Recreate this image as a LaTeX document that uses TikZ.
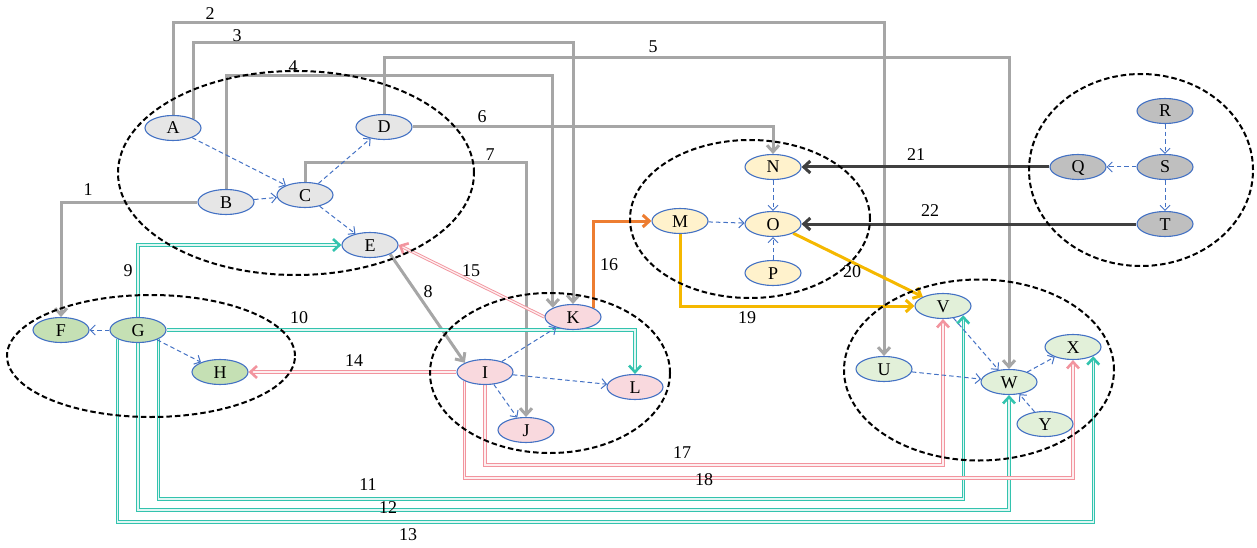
\documentclass[tikz,border=0pt]{standalone}
\usepackage{fontspec}
\setmainfont{Liberation Serif}
\usetikzlibrary{arrows.meta,shapes.geometric}

\definecolor{nodeblue}{HTML}{4472C4}
\definecolor{edgegray}{HTML}{A6A6A6}
\definecolor{darkedge}{HTML}{404040}
\definecolor{orangeedge}{HTML}{ED7D31}
\definecolor{goldedge}{HTML}{F5B800}
\definecolor{tealedge}{HTML}{33C3AE}
\definecolor{pinkedge}{HTML}{F2949E}
\definecolor{fillA}{HTML}{E6E6E6}
\definecolor{fillB}{HTML}{C5E0B4}
\definecolor{fillC}{HTML}{F9D9DE}
\definecolor{fillD}{HTML}{FFF2CC}
\definecolor{fillE}{HTML}{BFBFBF}
\definecolor{fillF}{HTML}{E2F0D9}

\pgfdeclarelayer{edgelayer}
\pgfdeclarelayer{grouplayer}
\pgfsetlayers{edgelayer,grouplayer,main}

\tikzset{
  vnode/.style={ellipse, draw=nodeblue, line width=1.1pt, minimum width=56pt, minimum height=25pt,
    inner sep=0pt, font=\fontsize{18}{18}\selectfont, text height=12pt, text depth=0pt},
  grp/.style={ellipse, draw=black, line width=2pt, dash pattern=on 5.5pt off 3pt, inner sep=0pt},
  intra/.style={draw=nodeblue, line width=1pt, dash pattern=on 4.5pt off 3pt,
    -{Straight Barb[length=5pt,width=10pt]}},
  bigtip/.style={-{Straight Barb[length=6.5pt,width=12pt]}},
  gedge/.style={draw=edgegray, line width=3pt, bigtip},
  dedge/.style={draw=darkedge, line width=3pt, bigtip},
  oedge/.style={draw=orangeedge, line width=3pt, bigtip},
  yedge/.style={draw=goldedge, line width=3pt, bigtip},
  tline/.style={draw=tealedge, line width=0.9pt, double=tealedge!15, double distance=1.3pt, shorten >=3pt},
  ttip/.style={draw=tealedge, line width=2.6pt, line cap=butt, dash pattern=on 0pt off 2000pt, bigtip},
  pline/.style={draw=pinkedge, line width=0.9pt, double=pinkedge!15, double distance=1.3pt, shorten >=3pt},
  ptip/.style={draw=pinkedge, line width=2.6pt, line cap=butt, dash pattern=on 0pt off 2000pt, bigtip},
  elabel/.style={font=\fontsize{18}{18}\selectfont, inner sep=0pt}
}
\newcommand{\dblconn}[2]{\draw[#1line] #2; \draw[#1tip] #2;}

\begin{document}
\begin{tikzpicture}[x=1pt, y=-1pt]
\useasboundingbox (0,0) rectangle (1257,548);

% nodes
\node[vnode, fill=fillA] (A) at (173,128) {A};
\node[vnode, fill=fillA] (B) at (226,202) {B};
\node[vnode, fill=fillA] (C) at (305,195) {C};
\node[vnode, fill=fillA] (D) at (384,127) {D};
\node[vnode, fill=fillA] (E) at (370,245) {E};

\node[vnode, fill=fillB] (F) at (61,330) {F};
\node[vnode, fill=fillB] (G) at (138,330) {G};
\node[vnode, fill=fillB] (H) at (220,372) {H};

\node[vnode, fill=fillC] (K) at (573,317) {K};
\node[vnode, fill=fillC] (I) at (485,372) {I};
\node[vnode, fill=fillC] (L) at (635,387) {L};
\node[vnode, fill=fillC] (J) at (526,430) {J};

\node[vnode, fill=fillD] (N) at (773,167) {N};
\node[vnode, fill=fillD] (M) at (680,221) {M};
\node[vnode, fill=fillD] (O) at (773,224) {O};
\node[vnode, fill=fillD] (P) at (773,273) {P};

\node[vnode, fill=fillE] (R) at (1165,111) {R};
\node[vnode, fill=fillE] (Q) at (1078,167) {Q};
\node[vnode, fill=fillE] (S) at (1165,167) {S};
\node[vnode, fill=fillE] (T) at (1165,224) {T};

\node[vnode, fill=fillF] (V) at (943,306) {V};
\node[vnode, fill=fillF] (U) at (884,369) {U};
\node[vnode, fill=fillF] (W) at (1009,382) {W};
\node[vnode, fill=fillF] (X) at (1073,347) {X};
\node[vnode, fill=fillF] (Y) at (1045,424) {Y};

% groups
\begin{pgfonlayer}{grouplayer}
\node[grp, minimum width=356pt, minimum height=204pt] (g1) at (296,173) {};
\node[grp, minimum width=288pt, minimum height=122pt] (g2) at (151,356) {};
\node[grp, minimum width=240pt, minimum height=160pt] (g3) at (550,373) {};
\node[grp, minimum width=240pt, minimum height=158pt] (g4) at (750,219) {};
\node[grp, minimum width=224pt, minimum height=192pt] (g5) at (1141,170) {};
\node[grp, minimum width=270pt, minimum height=181pt] (g6) at (979,370) {};
\end{pgfonlayer}

% intra-group edges
\draw[intra] (A) -- (C);
\draw[intra] (B) -- (C);
\draw[intra] (C) -- (D);
\draw[intra] (C) -- (E);
\draw[intra] (G) -- (F);
\draw[intra] (G) -- (H);
\draw[intra] (I) -- (K);
\draw[intra] (I) -- (L);
\draw[intra] (I) -- (J);
\draw[intra] (M) -- (O);
\draw[intra] (N) -- (O);
\draw[intra] (P) -- (O);
\draw[intra] (R) -- (S);
\draw[intra] (S) -- (Q);
\draw[intra] (S) -- (T);
\draw[intra] (U) -- (W);
\draw[intra] (V) -- (W);
\draw[intra] (W) -- (X);
\draw[intra] (Y) -- (W);

% inter-group edges
\begin{pgfonlayer}{edgelayer}
\draw[gedge] (B.west) -| (F.north);
\draw[gedge] (A.north) -- (A.north |- 0,23) -| (U.north);
\draw[gedge] (A.north east) -- (A.north east |- 0,43) -| (K.north);
\draw[gedge] (B.north) -- (B.north |- 0,76) -| (K.north west);
\draw[gedge] (D.north) -- (D.north |- 0,58) -| (W.north);
\draw[gedge] (D.east) -| (N.north);
\draw[gedge] (C.north) -- (C.north |- 0,163) -| (J.north);
\draw[gedge] (E.south east) -- (I.north west);
\dblconn{t}{(G.north) |- (E.west)}
\dblconn{t}{(G.east) -| (L.north)}
\dblconn{t}{(G.south east) -- (G.south east |- 0,499) -| (V.south east)}
\dblconn{t}{(G.south) -- (G.south |- 0,510) -| (W.south)}
\dblconn{t}{(G.south west) -- (G.south west |- 0,522) -| (X.south east)}
\dblconn{p}{(I.west) -- (H.east)}
\dblconn{p}{(K.west) -- (E.east)}
\draw[oedge] (K.north east) |- (M.west);
\dblconn{p}{(I.south) -- (I.south |- 0,465) -| (V.south)}
\dblconn{p}{(I.south west) -- (I.south west |- 0,478) -| (X.south)}
\draw[yedge] (M.south) |- (V.west);
\draw[yedge] (O.south east) -- (V.north west);
\draw[dedge] (Q.west) -- (N.east);
\draw[dedge] (T.west) -- (O.east);
\end{pgfonlayer}

% labels
\node[elabel] (l1) at (88,190) {1};
\node[elabel] (l2) at (210,14) {2};
\node[elabel] (l3) at (237,36) {3};
\node[elabel] (l4) at (293,67) {4};
\node[elabel] (l5) at (653,47) {5};
\node[elabel] (l6) at (482,117) {6};
\node[elabel] (l7) at (490,155) {7};
\node[elabel] (l8) at (428,292) {8};
\node[elabel] (l9) at (128,271) {9};
\node[elabel] (l10) at (299,318) {10};
\node[elabel] (l11) at (368,485) {11};
\node[elabel] (l12) at (388,508) {12};
\node[elabel] (l13) at (408,535) {13};
\node[elabel] (l14) at (354,361) {14};
\node[elabel] (l15) at (471,271) {15};
\node[elabel] (l16) at (609,265) {16};
\node[elabel] (l17) at (682,453) {17};
\node[elabel] (l18) at (704,480) {18};
\node[elabel] (l19) at (747,318) {19};
\node[elabel] (l20) at (852,272) {20};
\node[elabel] (l21) at (916,155) {21};
\node[elabel] (l22) at (930,211) {22};
\end{tikzpicture}
\end{document}
